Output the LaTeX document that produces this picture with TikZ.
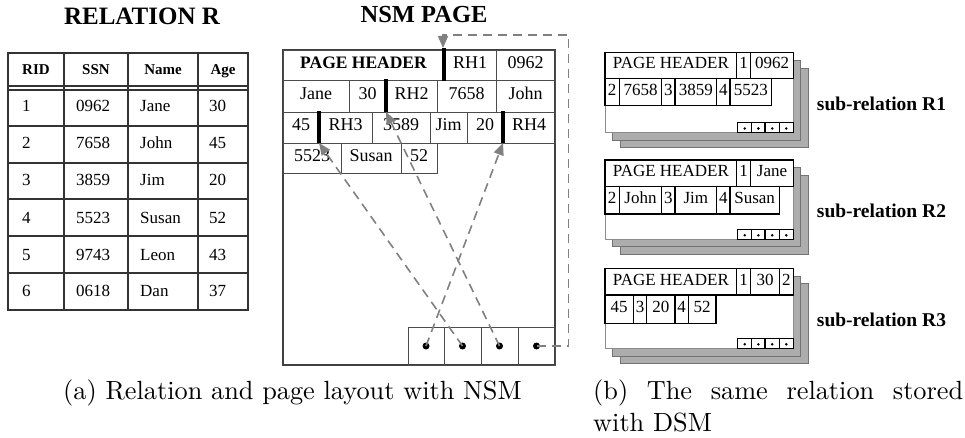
\documentclass[tikz,border=0pt]{standalone}
\usepackage{fontspec}
\usepackage{graphicx}
\newfontfamily\tms{Liberation Serif}
\usetikzlibrary{arrows.meta}
\newcommand\mkcell[7][]{%
  \pgfmathsetmacro\cw{#5-#3}\pgfmathsetmacro\ch{#6-#4}%
  \pgfmathsetmacro\cx{(#3+#5)/2}\pgfmathsetmacro\cy{(#4+#6)/2}%
  \node[#1,minimum width=\cw pt,minimum height=\ch pt] (#2) at (\cx,\cy) {#7};}
\begin{document}
\begin{tikzpicture}[x=1pt,y=-1pt,
  tabline/.style={draw=black!80, line width=1.2pt},
  tabhead/.style={font=\tms\bfseries\fontsize{15}{15}\selectfont, inner sep=0, anchor=base},
  tabtxt/.style={font=\tms\fontsize{17}{17}\selectfont, inner sep=0, anchor=base west},
  bigtitle/.style={font=\tms\bfseries\fontsize{25}{25}\selectfont, inner sep=0, anchor=base},
  nsm/.style={draw=black!70, line width=0.9pt, inner sep=0, outer sep=0, font=\tms\fontsize{18}{18}\selectfont, text height=0.68em, text depth=0pt},
  nsmpage/.style={draw=black!75, line width=1.2pt, inner sep=0, outer sep=0},
  rhbar/.style={line width=3.4pt, black},
  ptr/.style={draw=black!50, line width=1.6pt, dash pattern=on 9pt off 6pt, -{Triangle[length=12pt,width=10pt]}},
  bigdot/.style={circle, fill=black, inner sep=0, minimum size=7pt},
  dsm/.style={draw=black, line width=1.5pt, inner sep=0, outer sep=0, font=\tms\fontsize{17}{17}\selectfont, text height=0.68em, text depth=0pt},
  slot/.style={draw=black, line width=1.2pt, inner sep=0, outer sep=0},
  smalldot/.style={circle, fill=black, inner sep=0, minimum size=2.8pt},
  frontpage/.style={draw=black!45, line width=0.8pt, fill=white, inner sep=0},
  backpage/.style={draw=black!55, line width=0.6pt, fill=black!32, inner sep=0},
  sublabel/.style={font=\tms\bfseries\fontsize{19.5}{19.5}\selectfont, anchor=base west, inner sep=0},
  captxt/.style={anchor=base west, inner sep=0}]
\useasboundingbox (0,0) rectangle (965,438);

% ---------------- Relation R ----------------
\node[bigtitle] (reltitle) at (142,25) {RELATION R};
\draw[tabline] (8,53) rectangle (248,310);
\foreach \x in {64,128,198} \draw[tabline] (\x,53) -- (\x,310);
\foreach \y in {86,90,126,163,199,236,273} \draw[tabline] (8,\y) -- (248,\y);
\node[tabhead] (hrid) at (36,74.5) {RID};
\node[tabhead] (hssn) at (96,74.5) {SSN};
\node[tabhead] (hname) at (163,74.5) {Name};
\node[tabhead] (hage) at (223,74.5) {Age};
\foreach \r/\s/\n/\a/\yb in {1/0962/Jane/30/112, 2/7658/John/45/149, 3/3859/Jim/20/186,
    4/5523/Susan/52/223, 5/9743/Leon/43/260, 6/0618/Dan/37/296}{
  \node[tabtxt] (rid\r) at (22,\yb) {\r};
  \node[tabtxt] (ssn\r) at (76,\yb) {\s};
  \node[tabtxt] (name\r) at (140,\yb) {\n};
  \node[tabtxt] (age\r) at (209,\yb) {\a};
}

% ---------------- NSM page ----------------
\node[bigtitle, font=\tms\bfseries\fontsize{24.5}{24.5}\selectfont] (nsmtitle) at (424,23) {NSM PAGE};
\mkcell[nsmpage]{page}{283}{50}{555}{365}{}
\mkcell[nsm]{ph}{283}{50}{444}{80}{\bfseries\fontsize{17.5}{17.5}\selectfont PAGE HEADER\hspace{14pt}}
\mkcell[nsm]{rh1}{444}{50}{496}{80}{RH1}
\mkcell[nsm]{v0962}{496}{50}{555}{80}{0962}
\mkcell[nsm]{jane}{283}{80}{349}{112}{Jane}
\mkcell[nsm]{v30}{349}{80}{386}{112}{30}
\mkcell[nsm]{rh2}{386}{80}{437}{112}{RH2}
\mkcell[nsm]{v7658}{437}{80}{496}{112}{7658}
\mkcell[nsm]{john}{496}{80}{555}{112}{John}
\mkcell[nsm]{v45}{283}{112}{319}{143}{45}
\mkcell[nsm]{rh3}{319}{112}{372}{143}{RH3}
\mkcell[nsm]{v3589}{372}{112}{430}{143}{3589}
\mkcell[nsm]{jim}{430}{112}{467}{143}{Jim}
\mkcell[nsm]{v20}{467}{112}{503}{143}{20}
\mkcell[nsm]{rh4}{503}{112}{555}{143}{RH4}
\mkcell[nsm]{v5523}{283}{143}{341}{173}{5523}
\mkcell[nsm]{susan}{341}{143}{401}{173}{Susan}
\mkcell[nsm]{v52}{401}{143}{437}{173}{52}
\mkcell[nsm]{s1}{408}{327}{444}{365}{}
\mkcell[nsm]{s2}{444}{327}{481}{365}{}
\mkcell[nsm]{s3}{481}{327}{518}{365}{}
\mkcell[nsm]{s4}{518}{327}{555}{365}{}
\foreach \i in {1,2,3,4} \node[bigdot] (d\i) at (s\i) {};
\draw[rhbar] ([yshift=-1pt]rh1.south west) -- ([yshift=2pt]rh1.north west);
\draw[rhbar] ([yshift=-0.5pt]rh2.south west) -- ([yshift=1pt]rh2.north west);
\draw[rhbar] ([yshift=-0.5pt]rh3.south west) -- ([yshift=1pt]rh3.north west);
\draw[rhbar] ([yshift=-0.5pt]rh4.south west) -- ([yshift=1pt]rh4.north west);
\draw[ptr] (d1.center) -- (rh4.south west);
\draw[ptr] (d2.center) -- (rh3.south west);
\draw[ptr] (d3.center) -- (rh2.south west);
\draw[ptr] (d4.center) -- ++(32,0) |- ([xshift=-1pt,yshift=15pt]rh1.north west) -- ([xshift=-1pt,yshift=2pt]rh1.north west);

% ---------------- DSM pages ----------------
% R1
\mkcell[backpage]{r1c}{620.7}{68.3}{808.3}{147.5}{}
\mkcell[backpage]{r1b}{612.7}{60.3}{800.7}{140}{}
\mkcell[frontpage]{r1a}{605}{52.3}{793.3}{132.5}{}
\mkcell[dsm]{r1ph}{605}{52.3}{736.7}{78.3}{PAGE HEADER}
\mkcell[dsm]{r1k1}{736.7}{52.3}{750.7}{78.3}{1}
\mkcell[dsm]{r1v1}{750.7}{52.3}{793.3}{78.3}{0962}
\mkcell[dsm]{r1k2}{605}{78.3}{619.3}{105.7}{2}
\mkcell[dsm]{r1v2}{619.3}{78.3}{661.7}{105.7}{7658}
\mkcell[dsm]{r1k3}{661.7}{78.3}{675}{105.7}{3}
\mkcell[dsm]{r1v3}{675}{78.3}{716.7}{105.7}{3859}
\mkcell[dsm]{r1k4}{716.7}{78.3}{730}{105.7}{4}
\mkcell[dsm]{r1v4}{730}{78.3}{771.7}{105.7}{5523}
\mkcell[slot]{r1s1}{737.7}{122.5}{751.7}{132.5}{}
\mkcell[slot]{r1s2}{751.7}{122.5}{765}{132.5}{}
\mkcell[slot]{r1s3}{765}{122.5}{779.3}{132.5}{}
\mkcell[slot]{r1s4}{779.3}{122.5}{793.3}{132.5}{}
\foreach \i in {1,2,3,4} \node[smalldot] (r1d\i) at ([yshift=-1pt]r1s\i.center) {};
\node[sublabel] (r1lab) at (816.7,111) {sub-relation R1};
% R2
\mkcell[backpage]{r2c}{620.7}{175}{808.3}{254.3}{}
\mkcell[backpage]{r2b}{612.7}{167.7}{800.7}{246.7}{}
\mkcell[frontpage]{r2a}{605}{160}{793.3}{239.3}{}
\mkcell[dsm]{r2ph}{605}{160}{736.7}{186.7}{PAGE HEADER}
\mkcell[dsm]{r2k1}{736.7}{160}{750.7}{186.7}{1}
\mkcell[dsm]{r2v1}{750.7}{160}{793.3}{186.7}{Jane}
\mkcell[dsm]{r2k2}{605}{186.7}{619.3}{214}{2}
\mkcell[dsm]{r2v2}{619.3}{186.7}{661.7}{214}{John}
\mkcell[dsm]{r2k3}{661.7}{186.7}{675}{214}{3}
\mkcell[dsm]{r2v3}{675}{186.7}{716.7}{214}{Jim}
\mkcell[dsm]{r2k4}{716.7}{186.7}{730}{214}{4}
\mkcell[dsm]{r2v4}{730}{186.7}{779.3}{214}{Susan}
\mkcell[slot]{r2s1}{737.7}{229.3}{751.7}{239.3}{}
\mkcell[slot]{r2s2}{751.7}{229.3}{765}{239.3}{}
\mkcell[slot]{r2s3}{765}{229.3}{779.3}{239.3}{}
\mkcell[slot]{r2s4}{779.3}{229.3}{793.3}{239.3}{}
\foreach \i in {1,2,3,4} \node[smalldot] (r2d\i) at ([yshift=-1pt]r2s\i.center) {};
\node[sublabel] (r2lab) at (816.7,218) {sub-relation R2};
% R3
\mkcell[backpage]{r3c}{620.7}{283.3}{808.3}{363.3}{}
\mkcell[backpage]{r3b}{612.7}{276}{800.7}{356}{}
\mkcell[frontpage]{r3a}{605}{268.3}{793.3}{348.3}{}
\mkcell[dsm]{r3ph}{605}{268.3}{736.7}{295}{PAGE HEADER}
\mkcell[dsm]{r3k1}{736.7}{268.3}{750.7}{295}{1}
\mkcell[dsm]{r3v1}{750.7}{268.3}{779.3}{295}{30}
\mkcell[dsm]{r3k2}{779.3}{268.3}{793.3}{295}{2}
\mkcell[dsm]{r3v2}{605}{295}{633.3}{323.3}{45}
\mkcell[dsm]{r3k3}{633.3}{295}{646.7}{323.3}{3}
\mkcell[dsm]{r3v3}{646.7}{295}{675}{323.3}{20}
\mkcell[dsm]{r3k4}{675}{295}{688.3}{323.3}{4}
\mkcell[dsm]{r3v4}{688.3}{295}{716}{323.3}{52}
\mkcell[slot]{r3s1}{737.7}{338.3}{751.7}{348.3}{}
\mkcell[slot]{r3s2}{751.7}{338.3}{765}{348.3}{}
\mkcell[slot]{r3s3}{765}{338.3}{779.3}{348.3}{}
\mkcell[slot]{r3s4}{779.3}{338.3}{793.3}{348.3}{}
\foreach \i in {1,2,3,4} \node[smalldot] (r3d\i) at ([yshift=-1pt]r3s\i.center) {};
\node[sublabel] (r3lab) at (816.7,326.7) {sub-relation R3};

% ---------------- Captions ----------------
\node[captxt] (capa) at (63,399) {\scalebox{2.63}{(a) Relation and page layout with NSM}};
\node[captxt] (capb1) at (593,399) {\scalebox{2.63}{\makebox[140.7pt][s]{(b) The same relation stored}}};
\node[captxt] (capb2) at (593,431) {\scalebox{2.63}{with DSM}};
\end{tikzpicture}
\end{document}
